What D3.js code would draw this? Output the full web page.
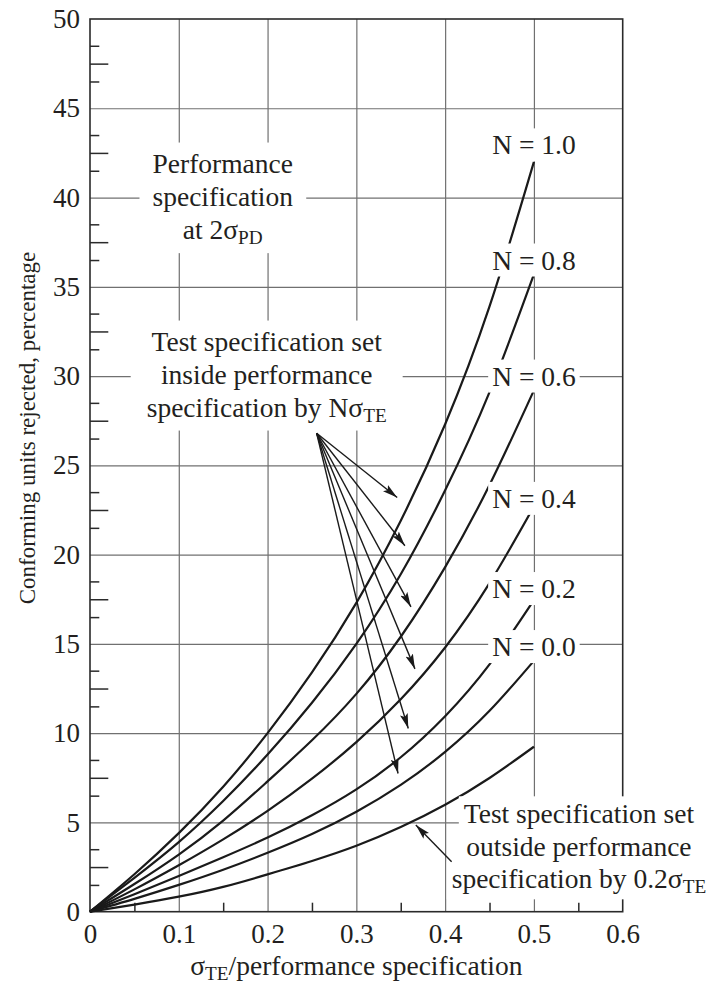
<!DOCTYPE html>
<meta charset="utf-8">
<script src="https://d3js.org/d3.v7.min.js"></script>
<style type="text/css">
body { margin: 0; background: #fff; }
svg { display: block; font-family: "Liberation Serif", "Times New Roman", serif; }
.grid line { stroke: #707070; stroke-width: 1.2px; }
.grid path { display: none; }
.minor line { stroke: #2a2a2a; stroke-width: 1.5px; }
.minor path { display: none; }
.labels path, .labels line { display: none; }
.labels text { font-size: 27px; fill: #231f20; font-family: "Liberation Serif", serif; }
.frame { fill: none; stroke: #2a2a2a; stroke-width: 1.6px; }
.curve { fill: none; stroke: #1a1a1a; stroke-width: 2.2px; }
.arrow { stroke: #1a1a1a; stroke-width: 1.4px; fill: none; }
text { fill: #231f20; }
</style>
<body></body>
<script>

// sigma_TE / performance specification
var xs = [0, 0.05, 0.1, 0.15, 0.2, 0.25, 0.3, 0.35, 0.4, 0.45, 0.5];

// conforming units rejected, %
var n10 = [0, 2.1, 4.4, 7.0, 10.0, 13.4, 17.3, 21.9, 27.3, 33.9, 42.0];
var n08 = [0, 1.9, 3.9, 6.2, 8.8, 11.7, 15.0, 18.9, 23.6, 29.1, 35.7];
var n06 = [0, 1.55, 3.2, 5.1, 7.3, 9.6, 12.2, 15.4, 19.3, 23.9, 29.2];
var n04 = [0, 1.25, 2.6, 4.05, 5.65, 7.45, 9.5, 11.9, 14.8, 18.4, 22.7];
var n02 = [0, 0.98, 2.0, 3.05, 4.15, 5.4, 6.85, 8.65, 10.95, 13.85, 17.45];
var n00 = [0, 0.72, 1.5, 2.35, 3.3, 4.35, 5.6, 7.1, 8.95, 11.25, 14.05];
var outside02 = [0, 0.4, 0.84, 1.39, 2.09, 2.84, 3.69, 4.74, 5.99, 7.49, 9.24];

var seriesList = [n10, n08, n06, n04, n02, n00, outside02];

// curve labels: text, x, y (centre, data units)
var nLabels = ["N = 1.0", "N = 0.8", "N = 0.6", "N = 0.4", "N = 0.2", "N = 0.0"];
var nLabelX = [0.5, 0.5, 0.5, 0.5, 0.5, 0.5];
var nLabelY = [42.95, 36.5, 30.0, 23.15, 18.1, 14.85];

// ticks
var xTicks = [0, 0.1, 0.2, 0.3, 0.4, 0.5, 0.6];
var xTickText = ["0", "0.1", "0.2", "0.3", "0.4", "0.5", "0.6"];
var xMinor = [0.05, 0.15, 0.25, 0.35, 0.45, 0.55];
var yTicks = [0, 5, 10, 15, 20, 25, 30, 35, 40, 45, 50];
var yShort = [1.5, 3.5, 6.5, 8.5, 11.5, 13.5, 16.5, 18.5, 21.5, 23.5, 26.5, 28.5, 31.5, 33.5, 36.5, 38.5, 41.5, 43.5, 46.5, 48.5];
var yLong = [2.5, 7.5, 12.5, 17.5, 22.5, 27.5, 32.5, 37.5, 42.5, 47.5];

// annotation texts ( _{..} = subscript )
var perfText = ["Performance", "specification", "at 2σ_{PD}"];
var insideText = ["Test specification set", "inside performance", "specification by Nσ_{TE}"];
var outsideText = ["Test specification set", "outside performance", "specification by 0.2σ_{TE}"];
var xTitle = "σ_{TE}/performance specification";
var yTitle = "Conforming units rejected, percentage";

// annotation anchors (data units)
var perfAt = [0.1495, 41.4];
var insideAt = [0.199, 31.43];
var outsideAt = [0.5507, 4.95];
var insideArrowFrom = [0.2553, 26.8];
var insideArrowTips = [[0.346, 23.2], [0.3547, 20.5], [0.3615, 17.07], [0.366, 13.6], [0.3585, 10.26], [0.347, 7.74]];
var outsideArrowFrom = [0.4073, 2.8];
var outsideArrowTip = [0.367, 4.85];

var margin = {top: 19, right: 86.3, bottom: 74.3, left: 90};
var width = 709 - margin.left - margin.right;
var height = 986 - margin.top - margin.bottom;

var svg = d3.select("body").append("svg")
    .attr("width", 709)
    .attr("height", 986);

var defs = svg.append("defs");
defs.append("marker")
    .attr("id", "head")
    .attr("viewBox", "0 0 15 8")
    .attr("refX", 15).attr("refY", 4)
    .attr("markerWidth", 15).attr("markerHeight", 8)
    .attr("markerUnits", "userSpaceOnUse")
    .attr("orient", "auto")
  .append("path")
    .attr("d", "M0,0L15,4L0,8L3,4Z")
    .style("fill", "#1a1a1a");

var g = svg.append("g")
    .attr("transform", "translate(" + margin.left + "," + margin.top + ")");

var x = d3.scaleLinear().domain([0, 0.6]).range([0, width]);
var y = d3.scaleLinear().domain([0, 50]).range([height, 0]);

// grid
g.append("g").attr("class", "grid")
    .attr("transform", "translate(0," + height + ")")
    .call(d3.axisBottom(x).tickValues([0.1, 0.2, 0.3, 0.4, 0.5]).tickSize(-height).tickFormat(""));
g.append("g").attr("class", "grid")
    .call(d3.axisLeft(y).tickValues([5, 10, 15, 20, 25, 30, 35, 40, 45]).tickSize(-width).tickFormat(""));

// minor ticks
g.append("g").attr("class", "minor")
    .attr("transform", "translate(0," + height + ")")
    .call(d3.axisBottom(x).tickValues(xMinor).tickSize(-9).tickFormat(""));
g.append("g").attr("class", "minor")
    .call(d3.axisLeft(y).tickValues(yShort).tickSize(-9.3).tickFormat(""));
g.append("g").attr("class", "minor")
    .call(d3.axisLeft(y).tickValues(yLong).tickSize(-18.3).tickFormat(""));

g.append("rect").attr("class", "frame")
    .attr("width", width).attr("height", height);

// tick labels
g.append("g").attr("class", "labels")
    .attr("transform", "translate(0," + height + ")")
    .call(d3.axisBottom(x).tickValues(xTicks).tickSize(0).tickPadding(12)
      .tickFormat(function(d, i) { return xTickText[i]; }));
g.append("g").attr("class", "labels")
    .call(d3.axisLeft(y).tickValues(yTicks).tickSize(0).tickPadding(10).tickFormat(d3.format("d")));

// curves
var line = d3.line()
    .x(function(d, i) { return x(xs[i]); })
    .y(function(d) { return y(d); })
    .curve(d3.curveNatural);

g.selectAll(".curve")
    .data(seriesList).enter().append("path")
    .attr("class", "curve")
    .attr("d", line);

var boxLayer = g.append("g");
var textLayer = g.append("g");

// write text with _{..} subscripts as tspans
function rich(t, s) {
  var parts = s.split(/_\{|\}/);
  parts.forEach(function(p, i) {
    if (!p) return;
    var ts = t.append("tspan").text(p);
    if (i % 2 == 1) ts.attr("font-size", "70%").attr("dy", 5);
    else if (i > 0) ts.attr("dy", -5);
  });
}

function addBox(b, padX, padY) {
  boxLayer.append("rect")
    .attr("x", b.x - padX).attr("y", b.y - padY)
    .attr("width", b.width + 2 * padX).attr("height", b.height + 2 * padY)
    .style("fill", "#fff");
}

function textBlock(lines, at, lh, size, padX, padY, oneBox) {
  var boxes = [];
  lines.forEach(function(s, i) {
    var t = textLayer.append("text")
      .attr("x", x(at[0]))
      .attr("y", y(at[1]) + i * lh)
      .attr("text-anchor", "middle")
      .style("font-size", size + "px");
    rich(t, s);
    boxes.push(t.node().getBBox());
  });
  if (oneBox) {
    var x0 = d3.min(boxes, function(b) { return b.x; });
    var x1 = d3.max(boxes, function(b) { return b.x + b.width; });
    var y0 = d3.min(boxes, function(b) { return b.y; });
    var y1 = d3.max(boxes, function(b) { return b.y + b.height; });
    addBox({x: x0, y: y0, width: x1 - x0, height: y1 - y0}, padX, padY);
  } else {
    boxes.forEach(function(b) { addBox(b, padX, padY); });
  }
}

nLabels.forEach(function(s, i) {
  var t = textLayer.append("text")
    .attr("x", x(nLabelX[i]))
    .attr("y", y(nLabelY[i]) + 9.5)
    .attr("text-anchor", "middle")
    .style("font-size", "27.5px")
    .text(s);
  addBox(t.node().getBBox(), 4, 1);
});

textBlock(perfText, perfAt, 33.3, 27.5, 13, 5, true);
textBlock(insideText, insideAt, 33, 27.5, 16, 5, true);
textBlock(outsideText, outsideAt, 32.5, 27.5, 5, 2, false);

// arrows
insideArrowTips.forEach(function(tp) {
  g.append("line").attr("class", "arrow")
    .attr("x1", x(insideArrowFrom[0])).attr("y1", y(insideArrowFrom[1]))
    .attr("x2", x(tp[0])).attr("y2", y(tp[1]))
    .attr("marker-end", "url(#head)");
});
g.append("line").attr("class", "arrow")
    .attr("x1", x(outsideArrowFrom[0])).attr("y1", y(outsideArrowFrom[1]))
    .attr("x2", x(outsideArrowTip[0])).attr("y2", y(outsideArrowTip[1]))
    .attr("marker-end", "url(#head)");

// axis titles
var xt = svg.append("text")
    .attr("x", margin.left + x(0.3))
    .attr("y", 975)
    .attr("text-anchor", "middle")
    .style("font-size", "27.5px");
rich(xt, xTitle);

svg.append("text")
    .attr("transform", "translate(35," + 428 + ") rotate(-90)")
    .attr("text-anchor", "middle")
    .style("font-size", "23px")
    .text(yTitle);

</script>
